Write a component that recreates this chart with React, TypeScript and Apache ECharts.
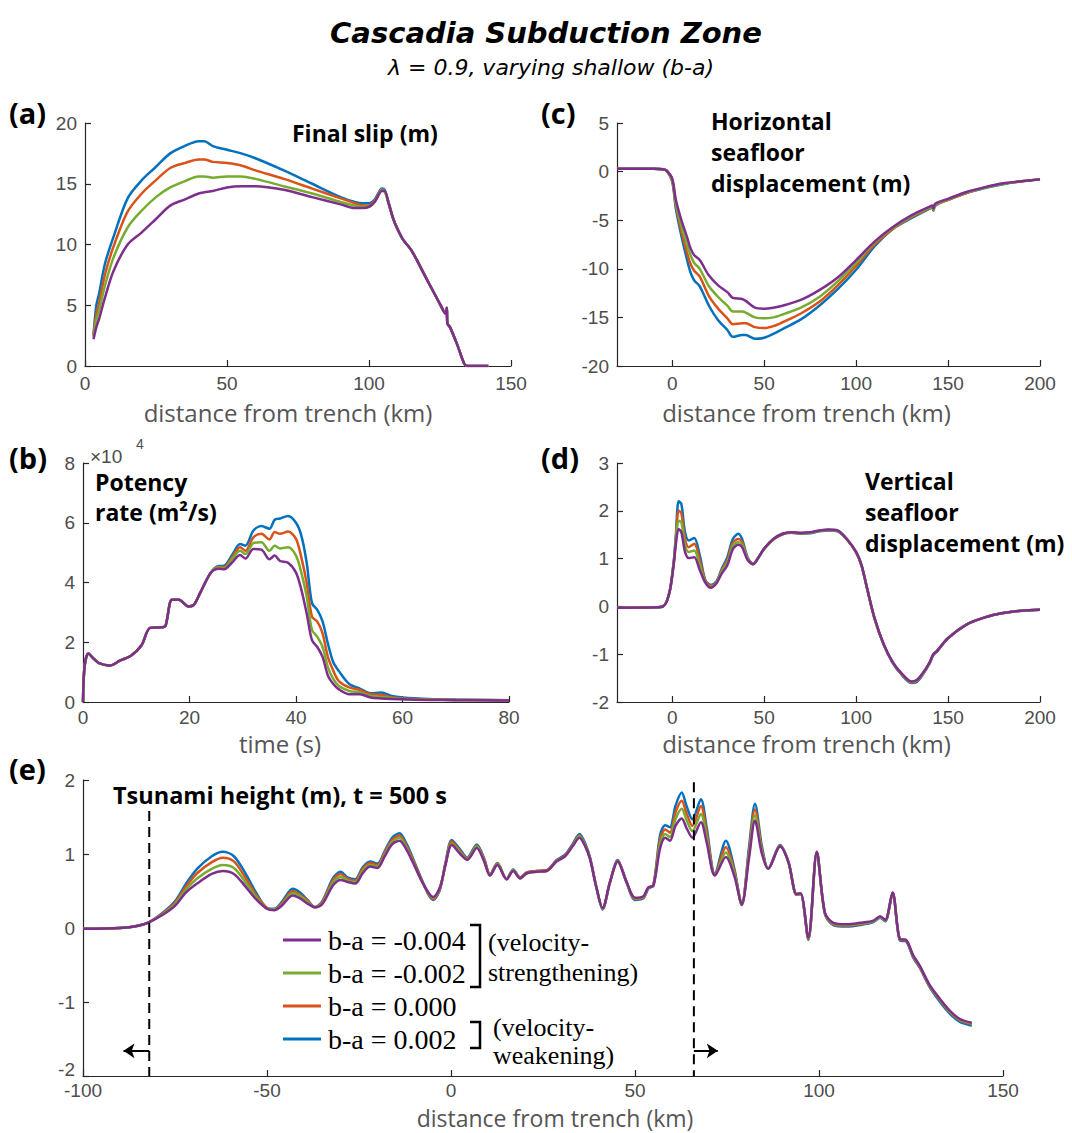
import React, { useEffect, useRef } from "react";
import * as echarts from "echarts";

// Series: purple, green, orange, blue
const NAMES = ["b-a = -0.004", "b-a = -0.002", "b-a = 0.000", "b-a = 0.002"];
const COLORS = ["#7E2F8E", "#77AC30", "#D95319", "#0072BD"];

// (a) Final slip (m)
const SLIP_X = [3, 4, 5, 7, 10, 15, 20, 25, 30, 35, 40, 42, 45, 50, 55, 60, 70, 80, 90, 95, 98, 100, 102, 103, 104.5, 105.5, 107, 108.7, 110, 112, 115, 120, 125, 127, 127.4, 127.6, 128.5, 131, 133.5, 134.5, 142];
const SLIP_PURPLE = [2.2, 3.2, 3.9, 5.6, 7.8, 10.0, 11.0, 12.1, 13.2, 13.7, 14.2, 14.3, 14.4, 14.7, 14.8, 14.8, 14.5, 13.9, 13.3, 13.0, 13.0, 13.1, 13.5, 13.9, 14.4, 14.4, 13.3, 12.0, 11.3, 10.4, 9.5, 7.3, 5.1, 4.3, 4.8, 3.5, 3.2, 1.8, 0.2, 0, 0];
const SLIP_GREEN = [2.4, 3.8, 4.6, 6.6, 8.9, 11.4, 12.8, 13.9, 14.7, 15.2, 15.6, 15.6, 15.5, 15.6, 15.6, 15.4, 14.8, 14.2, 13.5, 13.2, 13.1, 13.1, 13.5, 13.9, 14.5, 14.4, 13.3, 12.0, 11.3, 10.4, 9.5, 7.3, 5.1, 4.3, 4.8, 3.5, 3.2, 1.8, 0.2, 0, 0];
const SLIP_ORANGE = [2.5, 4.3, 5.2, 7.5, 9.8, 12.7, 14.2, 15.3, 16.3, 16.7, 17.0, 17.0, 16.8, 16.7, 16.5, 16.1, 15.4, 14.6, 13.8, 13.4, 13.2, 13.2, 13.6, 14.0, 14.5, 14.4, 13.3, 12.0, 11.3, 10.4, 9.5, 7.3, 5.1, 4.3, 4.8, 3.5, 3.2, 1.8, 0.2, 0, 0];
const SLIP_BLUE = [2.6, 5.0, 6.0, 8.4, 10.6, 13.8, 15.3, 16.4, 17.5, 18.1, 18.5, 18.5, 18.1, 17.8, 17.5, 17.1, 16.1, 15.0, 13.9, 13.5, 13.4, 13.4, 13.7, 14.1, 14.6, 14.5, 13.4, 12.0, 11.3, 10.4, 9.5, 7.3, 5.1, 4.3, 4.8, 3.5, 3.2, 1.8, 0.2, 0, 0];

// (b) Potency rate (x10^4 m^2/s)
const RATE_T = [0, 0.3, 1, 2, 3, 5, 7, 9, 11, 12.6, 14.8, 15.5, 16.7, 18, 19.8, 20.8, 22, 24, 25.5, 26.5, 28, 29.5, 30.5, 32, 33.5, 35, 36, 37, 38.5, 40, 41, 42, 43, 44, 45, 46, 47, 48, 50, 52, 54, 56, 58, 60, 65, 70, 80];
const RATE_PURPLE = [0, 1.2, 1.62, 1.45, 1.3, 1.22, 1.39, 1.55, 1.9, 2.48, 2.5, 2.55, 3.42, 3.42, 3.2, 3.25, 3.65, 4.33, 4.46, 4.44, 4.67, 4.92, 4.8, 5.12, 5.1, 4.78, 4.9, 4.72, 4.66, 4.33, 3.76, 2.97, 2.07, 1.84, 1.5, 0.88, 0.6, 0.43, 0.26, 0.26, 0.15, 0.12, 0.1, 0.09, 0.07, 0.06, 0.05];
const RATE_GREEN = [0, 1.2, 1.62, 1.45, 1.3, 1.22, 1.39, 1.55, 1.9, 2.48, 2.5, 2.55, 3.42, 3.42, 3.2, 3.25, 3.65, 4.33, 4.5, 4.48, 4.78, 5.06, 4.95, 5.32, 5.35, 5.06, 5.23, 5.14, 5.18, 4.9, 4.33, 3.54, 2.41, 2.18, 1.84, 1.16, 0.77, 0.54, 0.37, 0.32, 0.2, 0.17, 0.13, 0.1, 0.08, 0.07, 0.06];
const RATE_ORANGE = [0, 1.2, 1.62, 1.45, 1.3, 1.22, 1.39, 1.55, 1.9, 2.48, 2.5, 2.55, 3.42, 3.42, 3.2, 3.25, 3.65, 4.33, 4.52, 4.52, 4.84, 5.18, 5.06, 5.51, 5.63, 5.44, 5.69, 5.63, 5.71, 5.46, 4.84, 3.99, 2.86, 2.69, 2.29, 1.5, 1.05, 0.71, 0.49, 0.4, 0.26, 0.24, 0.16, 0.12, 0.09, 0.07, 0.06];
const RATE_BLUE = [0, 1.2, 1.62, 1.45, 1.3, 1.22, 1.39, 1.55, 1.9, 2.48, 2.5, 2.55, 3.42, 3.42, 3.2, 3.25, 3.65, 4.33, 4.55, 4.56, 4.92, 5.29, 5.23, 5.74, 5.89, 5.8, 6.1, 6.14, 6.23, 6.0, 5.57, 4.67, 3.31, 3.08, 2.69, 1.95, 1.33, 1.05, 0.6, 0.45, 0.29, 0.32, 0.2, 0.15, 0.1, 0.08, 0.06];

// (c) Horizontal seafloor displacement (m)
const HORIZ_X = [-30, -20, -10, -5, -3, 0, 2, 5, 8, 10, 12, 15, 20, 25, 30, 33, 38, 40, 45, 50, 55, 60, 70, 80, 90, 100, 110, 120, 130, 140, 141.5, 142, 143, 150, 160, 170, 180, 190, 200];
const HORIZ_PURPLE = [0.3, 0.3, 0.3, 0.25, 0.1, -0.7, -2.9, -5.0, -6.7, -7.9, -8.6, -9.1, -10.7, -11.7, -12.4, -13.0, -13.1, -13.3, -14.0, -14.1, -14.0, -13.8, -13.2, -12.2, -10.9, -9.1, -7.2, -5.7, -4.5, -3.6, -3.5, -3.8, -3.3, -2.8, -2.1, -1.6, -1.2, -1.0, -0.8];
const HORIZ_GREEN = [0.3, 0.3, 0.3, 0.25, 0.1, -0.8, -3.2, -5.6, -7.5, -8.6, -9.4, -10.0, -11.8, -12.9, -13.8, -14.4, -14.4, -14.5, -15.0, -15.1, -15.0, -14.7, -14.0, -12.9, -11.3, -9.4, -7.3, -5.8, -4.6, -3.7, -3.6, -3.9, -3.4, -2.85, -2.15, -1.65, -1.25, -1.0, -0.8];
const HORIZ_ORANGE = [0.3, 0.3, 0.3, 0.25, 0.1, -0.9, -3.5, -6.1, -8.3, -9.5, -10.2, -10.8, -12.8, -14.1, -15.1, -15.7, -15.6, -15.6, -16.0, -16.1, -15.9, -15.5, -14.6, -13.4, -11.7, -9.7, -7.5, -5.9, -4.7, -3.75, -3.65, -3.95, -3.45, -2.9, -2.2, -1.65, -1.25, -1.0, -0.8];
const HORIZ_BLUE = [0.3, 0.3, 0.3, 0.25, 0.1, -1.0, -3.8, -6.6, -9.0, -10.4, -11.2, -11.8, -13.8, -15.3, -16.3, -17.0, -16.8, -16.8, -17.2, -17.1, -16.7, -16.2, -15.2, -13.8, -12.1, -10.1, -7.7, -5.9, -4.8, -3.8, -3.7, -4.0, -3.5, -2.9, -2.2, -1.7, -1.3, -1.0, -0.8];

// (d) Vertical seafloor displacement (m)
const VERT_X = [-30, -8, -5, -3, -1, 1, 2, 3.5, 5, 7, 9, 12, 15, 18, 21, 24, 27, 30, 33, 36, 38, 41, 44, 47, 50, 55, 60, 65, 70, 75, 80, 85, 90, 95, 100, 103, 106, 110, 115, 120, 125, 130, 133, 136, 140, 142, 144, 150, 160, 170, 180, 190, 200];
const VERT_PURPLE = [-0.03, -0.02, 0, 0.1, 0.38, 0.93, 1.3, 1.62, 1.55, 1.14, 1.01, 1.03, 0.76, 0.5, 0.39, 0.48, 0.69, 0.86, 1.2, 1.29, 1.24, 0.97, 0.88, 1.03, 1.21, 1.41, 1.52, 1.55, 1.54, 1.55, 1.59, 1.61, 1.59, 1.41, 1.14, 0.86, 0.38, -0.24, -0.79, -1.17, -1.41, -1.57, -1.54, -1.41, -1.17, -1.0, -0.93, -0.66, -0.38, -0.23, -0.14, -0.09, -0.07];
const VERT_GREEN = [-0.03, -0.02, 0, 0.1, 0.38, 0.95, 1.38, 1.79, 1.76, 1.28, 1.14, 1.17, 0.86, 0.52, 0.41, 0.49, 0.73, 0.92, 1.27, 1.34, 1.3, 1.0, 0.88, 1.03, 1.21, 1.41, 1.52, 1.55, 1.53, 1.54, 1.58, 1.6, 1.58, 1.41, 1.14, 0.86, 0.38, -0.24, -0.79, -1.17, -1.42, -1.58, -1.55, -1.42, -1.17, -1.0, -0.93, -0.66, -0.38, -0.23, -0.14, -0.09, -0.07];
const VERT_ORANGE = [-0.03, -0.02, 0, 0.1, 0.38, 0.97, 1.42, 2.0, 1.95, 1.41, 1.24, 1.31, 0.97, 0.54, 0.43, 0.5, 0.76, 0.97, 1.33, 1.41, 1.35, 1.01, 0.89, 1.03, 1.2, 1.4, 1.51, 1.54, 1.53, 1.54, 1.58, 1.6, 1.58, 1.4, 1.13, 0.85, 0.37, -0.25, -0.8, -1.18, -1.43, -1.59, -1.56, -1.43, -1.18, -1.01, -0.94, -0.67, -0.38, -0.23, -0.14, -0.09, -0.07];
const VERT_BLUE = [-0.03, -0.02, 0, 0.1, 0.38, 1.0, 1.48, 2.2, 2.14, 1.55, 1.38, 1.43, 1.07, 0.55, 0.45, 0.52, 0.79, 1.03, 1.41, 1.52, 1.41, 1.03, 0.89, 1.03, 1.2, 1.4, 1.51, 1.54, 1.52, 1.53, 1.57, 1.59, 1.57, 1.4, 1.13, 0.85, 0.37, -0.25, -0.8, -1.19, -1.44, -1.6, -1.58, -1.44, -1.19, -1.02, -0.94, -0.67, -0.38, -0.23, -0.14, -0.09, -0.07];

// (e) Tsunami height (m), t = 500 s
const TSU_X = [-100, -90, -85, -82, -78, -75, -72, -69, -65, -62, -59, -56, -53, -50, -48, -46, -43, -41, -39, -37, -35, -32, -30, -28, -26, -24, -22, -20, -18, -16, -14, -12, -10, -8, -6, -4.8, -3, -1.5, 0.2, 2.5, 4.4, 7.0, 9, 10.6, 12.6, 15.1, 16.9, 18.8, 20.6, 23.3, 26, 28.7, 31, 33, 34.9, 36.5, 37.8, 39.5, 41.2, 43.2, 45.3, 47.7, 50, 52.3, 53.6, 55, 56.8, 58.2, 59.5, 61, 62.7, 64, 65.6, 67.9, 69.5, 71.7, 74.7, 77, 79, 81, 82.6, 84.5, 86.2, 89.4, 91.7, 93.9, 95, 97.1, 99.4, 101.6, 103.9, 107.5, 111.1, 114.8, 116.6, 118, 120, 122, 123.6, 125.6, 127.4, 130.2, 132.9, 135.6, 138.3, 141.5];
const TSU_PURPLE = [-0.01, 0, 0.03, 0.08, 0.19, 0.3, 0.48, 0.6, 0.73, 0.77, 0.73, 0.57, 0.39, 0.26, 0.24, 0.3, 0.44, 0.4, 0.33, 0.28, 0.32, 0.58, 0.65, 0.62, 0.6, 0.74, 0.83, 0.81, 0.97, 1.13, 1.18, 1.05, 0.85, 0.64, 0.47, 0.42, 0.55, 0.85, 1.12, 1.0, 0.92, 1.08, 0.9, 0.71, 0.85, 0.66, 0.77, 0.67, 0.74, 0.76, 0.77, 0.9, 0.97, 1.1, 1.22, 1.1, 0.93, 0.55, 0.27, 0.62, 0.9, 0.62, 0.41, 0.43, 0.55, 0.57, 1.07, 1.22, 1.18, 1.38, 1.48, 1.35, 1.22, 1.43, 1.15, 0.71, 0.96, 0.7, 0.32, 0.95, 1.45, 1.0, 0.8, 1.1, 0.89, 0.46, 0.47, -0.13, 1.03, 0.21, 0.07, 0.05, 0.07, 0.1, 0.16, 0.11, 0.48, -0.15, -0.16, -0.37, -0.51, -0.78, -0.96, -1.12, -1.23, -1.28];
const TSU_GREEN = [-0.01, 0, 0.03, 0.08, 0.2, 0.32, 0.52, 0.67, 0.8, 0.85, 0.81, 0.63, 0.42, 0.26, 0.25, 0.31, 0.47, 0.43, 0.35, 0.28, 0.33, 0.62, 0.69, 0.64, 0.62, 0.77, 0.85, 0.83, 0.99, 1.16, 1.22, 1.07, 0.86, 0.64, 0.46, 0.41, 0.54, 0.86, 1.14, 1.02, 0.93, 1.1, 0.91, 0.71, 0.86, 0.66, 0.78, 0.67, 0.74, 0.76, 0.77, 0.9, 0.97, 1.11, 1.24, 1.11, 0.93, 0.55, 0.26, 0.62, 0.9, 0.62, 0.4, 0.42, 0.54, 0.57, 1.13, 1.27, 1.23, 1.47, 1.61, 1.46, 1.31, 1.54, 1.22, 0.71, 1.02, 0.74, 0.32, 1.0, 1.52, 1.03, 0.8, 1.1, 0.89, 0.46, 0.46, -0.14, 1.03, 0.2, 0.06, 0.04, 0.06, 0.09, 0.15, 0.1, 0.48, -0.15, -0.16, -0.38, -0.52, -0.79, -0.97, -1.13, -1.24, -1.29];
const TSU_ORANGE = [-0.01, 0, 0.03, 0.08, 0.21, 0.34, 0.56, 0.74, 0.89, 0.95, 0.9, 0.69, 0.45, 0.27, 0.25, 0.33, 0.5, 0.45, 0.37, 0.28, 0.35, 0.65, 0.73, 0.66, 0.64, 0.8, 0.88, 0.85, 1.02, 1.19, 1.25, 1.1, 0.88, 0.65, 0.45, 0.39, 0.53, 0.87, 1.17, 1.04, 0.94, 1.11, 0.93, 0.72, 0.87, 0.66, 0.78, 0.68, 0.75, 0.77, 0.78, 0.91, 0.98, 1.12, 1.25, 1.12, 0.94, 0.55, 0.26, 0.62, 0.91, 0.62, 0.39, 0.41, 0.54, 0.58, 1.19, 1.33, 1.29, 1.56, 1.72, 1.55, 1.38, 1.65, 1.29, 0.72, 1.09, 0.77, 0.31, 1.05, 1.6, 1.06, 0.8, 1.11, 0.89, 0.45, 0.46, -0.15, 1.02, 0.2, 0.05, 0.03, 0.05, 0.09, 0.15, 0.1, 0.47, -0.16, -0.17, -0.39, -0.53, -0.8, -0.98, -1.14, -1.25, -1.3];
const TSU_BLUE = [-0.01, 0, 0.03, 0.08, 0.22, 0.36, 0.6, 0.8, 0.97, 1.03, 0.97, 0.75, 0.48, 0.27, 0.26, 0.35, 0.53, 0.48, 0.38, 0.28, 0.36, 0.68, 0.76, 0.68, 0.66, 0.82, 0.9, 0.87, 1.04, 1.22, 1.28, 1.13, 0.9, 0.66, 0.44, 0.38, 0.52, 0.88, 1.19, 1.06, 0.95, 1.13, 0.94, 0.72, 0.88, 0.66, 0.79, 0.68, 0.75, 0.77, 0.78, 0.92, 0.99, 1.13, 1.27, 1.14, 0.95, 0.55, 0.25, 0.62, 0.92, 0.62, 0.38, 0.4, 0.53, 0.58, 1.25, 1.39, 1.36, 1.65, 1.83, 1.65, 1.47, 1.74, 1.35, 0.73, 1.18, 0.8, 0.31, 1.1, 1.68, 1.1, 0.8, 1.12, 0.89, 0.45, 0.46, -0.16, 1.02, 0.19, 0.04, 0.02, 0.04, 0.08, 0.14, 0.09, 0.47, -0.17, -0.18, -0.4, -0.54, -0.81, -1.0, -1.16, -1.27, -1.32];

// dashed boundaries and arrows in (e)
const LEFT_BOUND_X = -82;
const LEFT_BOUND_Y = [1.58, -2];
const RIGHT_BOUND_X = 66;
const RIGHT_BOUND_Y = [1.97, -2];
const ARROW_Y = -1.66;
const LEFT_ARROW_END = -89;
const RIGHT_ARROW_END = 72.5;

const HC_TICKS = [0, 50, 100, 150, 200];

const TICK_FONT = "Liberation Sans";
const SANS = "Open Sans";
const TITLE_FONT = "DejaVu Sans";
const SERIF = "Liberation Serif";
const AXIS_DARK = "#262626";
const TICK_GRAY = "#4d4d4d";

const DRAW_ORDER = [3, 2, 1, 0];

function panelSeries(gi: number, xs: number[], ys: number[][]) {
  return DRAW_ORDER.map((k) => ({
    type: "line",
    name: NAMES[k],
    xAxisIndex: gi,
    yAxisIndex: gi,
    data: xs.map((x, i) => [x, ys[k][i]]),
    showSymbol: false,
    symbol: "none",
    smooth: 0.3,
    silent: true,
    lineStyle: { color: COLORS[k], width: 2.5 },
    itemStyle: { color: COLORS[k] },
  }));
}

// shift: horizontal offset of the axis name from the axis centre (px, + = right)
function xAx(gi: number, min: number, max: number, interval: number, name: string, gap: number, shift: number, labelMargin: number, nameSize: number, custom?: number[]) {
  const pad = shift >= 0 ? [0, 0, 0, 2 * shift] : [0, -2 * shift, 0, 0];
  const ax: any = {
    type: "value",
    gridIndex: gi,
    min,
    max,
    interval,
    name,
    nameLocation: "middle",
    nameGap: gap,
    nameMoveOverlap: false,
    nameTextStyle: { fontFamily: SANS, fontSize: nameSize, color: "#555555", verticalAlign: "middle", lineHeight: nameSize, padding: pad },
    axisLine: { show: true, onZero: false, lineStyle: { color: AXIS_DARK, width: 1.2 } },
    axisTick: { show: true, inside: true, length: 6, lineStyle: { color: AXIS_DARK, width: 1.2 } },
    axisLabel: { fontFamily: TICK_FONT, fontSize: 19, color: TICK_GRAY, margin: labelMargin, lineHeight: 19 },
    splitLine: { show: false },
  };
  if (custom) {
    ax.axisLabel.customValues = custom;
    ax.axisTick.customValues = custom;
  }
  return ax;
}

function yAx(gi: number, min: number, max: number, interval: number, liftMin = false) {
  const label: any = { fontFamily: TICK_FONT, fontSize: 19, color: TICK_GRAY, margin: 8 };
  if (liftMin) {
    // the lowest label sits slightly above its tick, clear of the x labels
    label.formatter = (v: number) => (v === min ? `{lift|${v}}` : `${v}`);
    label.rich = { lift: { fontFamily: TICK_FONT, fontSize: 19, color: TICK_GRAY, padding: [0, 0, 14, 0] } };
  }
  return {
    type: "value",
    gridIndex: gi,
    min,
    max,
    interval,
    axisLine: { show: true, onZero: false, lineStyle: { color: AXIS_DARK, width: 1.2 } },
    axisTick: { show: true, inside: true, length: 6, lineStyle: { color: AXIS_DARK, width: 1.2 } },
    axisLabel: label,
    splitLine: { show: false },
  };
}

function txt(text: string, x: number, y: number, size: number, opts: any = {}) {
  return {
    type: "text",
    x,
    y,
    silent: true,
    style: {
      text,
      fill: "#000",
      fontFamily: SANS,
      fontSize: size,
      fontWeight: "bold",
      textAlign: "left",
      textVerticalAlign: "middle",
      ...opts,
    },
  };
}

function bracket(x0: number, x1: number, y0: number, y1: number) {
  return {
    type: "polyline",
    silent: true,
    shape: { points: [[x0, y0], [x1, y0], [x1, y1], [x0, y1]] },
    style: { stroke: "#000", lineWidth: 2.5, fill: null },
  };
}

function buildOption() {
  const series: any[] = [
    ...panelSeries(0, SLIP_X, [SLIP_PURPLE, SLIP_GREEN, SLIP_ORANGE, SLIP_BLUE]),
    ...panelSeries(1, RATE_T, [RATE_PURPLE, RATE_GREEN, RATE_ORANGE, RATE_BLUE]),
    ...panelSeries(2, HORIZ_X, [HORIZ_PURPLE, HORIZ_GREEN, HORIZ_ORANGE, HORIZ_BLUE]),
    ...panelSeries(3, VERT_X, [VERT_PURPLE, VERT_GREEN, VERT_ORANGE, VERT_BLUE]),
    ...panelSeries(4, TSU_X, [TSU_PURPLE, TSU_GREEN, TSU_ORANGE, TSU_BLUE]),
  ];
  const arrowLine = {
    silent: true,
    symbol: ["none", "arrow"],
    symbolSize: 11,
    label: { show: false },
    lineStyle: { color: "#000", width: 2, type: "solid" },
    emphasis: { disabled: true },
  };
  series.push({
    type: "line",
    xAxisIndex: 4,
    yAxisIndex: 4,
    silent: true,
    showSymbol: false,
    symbol: "none",
    data: LEFT_BOUND_Y.map((y) => [LEFT_BOUND_X, y]),
    lineStyle: { color: "#000", width: 2, type: [10, 6] },
    markLine: {
      ...arrowLine,
      data: [[{ coord: [LEFT_BOUND_X, ARROW_Y] }, { coord: [LEFT_ARROW_END, ARROW_Y] }]],
    },
  });
  series.push({
    type: "line",
    xAxisIndex: 4,
    yAxisIndex: 4,
    silent: true,
    showSymbol: false,
    symbol: "none",
    data: RIGHT_BOUND_Y.map((y) => [RIGHT_BOUND_X, y]),
    lineStyle: { color: "#000", width: 2, type: [10, 6] },
    markLine: {
      ...arrowLine,
      data: [[{ coord: [RIGHT_BOUND_X, ARROW_Y] }, { coord: [RIGHT_ARROW_END, ARROW_Y] }]],
    },
  });

  return {
    animation: false,
    backgroundColor: "#ffffff",
    grid: [
      { left: 85, top: 123, width: 426, height: 243 },
      { left: 83, top: 463, width: 426, height: 239 },
      { left: 617, top: 123, width: 423, height: 243 },
      { left: 617, top: 463, width: 423, height: 239 },
      { left: 83, top: 780, width: 920, height: 296 },
    ],
    xAxis: [
      xAx(0, 0, 150, 50, "distance from trench (km)", 46, -10, 8, 24),
      xAx(1, 0, 80, 20, "time (s)", 41, -16, 6, 24),
      xAx(2, -30, 200, 50, "distance from trench (km)", 46, -22, 8, 24, HC_TICKS),
      xAx(3, -30, 200, 50, "distance from trench (km)", 41, -22, 6, 24, HC_TICKS),
      xAx(4, -100, 150, 50, "distance from trench (km)", 42, 12, 5, 23),
    ],
    yAxis: [yAx(0, 0, 20, 5), yAx(1, 0, 8, 2), yAx(2, -20, 5, 5), yAx(3, -2, 3, 1), yAx(4, -2, 2, 1, true)],
    legend: {
      data: NAMES,
      orient: "vertical",
      left: 278,
      top: 921,
      icon: "rect",
      itemWidth: 38,
      itemHeight: 3,
      itemGap: 5,
      selectedMode: false,
      textStyle: { fontFamily: SERIF, fontSize: 28, color: "#000", padding: [0, 0, 0, 2] },
    },
    graphic: [
      txt("Cascadia Subduction Zone", 546, 33, 29, { textAlign: "center", fontStyle: "italic", fontFamily: TITLE_FONT }),
      txt("λ = 0.9, varying shallow (b-a)", 551, 67, 22, { textAlign: "center", fontStyle: "italic", fontWeight: "normal", fontFamily: TITLE_FONT }),
      txt("(a)", 9, 112, 29),
      txt("(b)", 9, 457, 29),
      txt("(c)", 541, 112, 29),
      txt("(d)", 541, 457, 29),
      txt("(e)", 9, 768, 29),
      txt("Final slip (m)", 292, 133, 23),
      txt("Horizontal\nseafloor\ndisplacement (m)", 711, 152, 23, { lineHeight: 31 }),
      txt("Potency\nrate (m²/s)", 95, 497, 23, { lineHeight: 30 }),
      txt("Vertical\nseafloor\ndisplacement (m)", 865, 512, 23, { lineHeight: 31 }),
      txt("Tsunami height (m), t = 500 s", 113, 795, 23.5),
      txt("×10", 90, 456, 19, { fontFamily: TICK_FONT, fontWeight: "normal", fill: TICK_GRAY }),
      txt("4", 136, 444, 14, { fontFamily: TICK_FONT, fontWeight: "normal", fill: TICK_GRAY }),
      bracket(470, 480, 925, 987),
      bracket(470, 480, 1022, 1048),
      txt("(velocity-\nstrengthening)", 488, 957, 26, { fontFamily: SERIF, fontWeight: "normal", lineHeight: 30 }),
      txt("(velocity-\nweakening)", 493, 1041, 26, { fontFamily: SERIF, fontWeight: "normal", lineHeight: 28 }),
    ],
    series,
  };
}

export default function App() {
  const ref = useRef<HTMLDivElement>(null);
  useEffect(() => {
    if (!ref.current) return;
    const chart = echarts.init(ref.current, null, { renderer: "svg" });
    chart.setOption(buildOption() as any);
    return () => chart.dispose();
  }, []);
  return (
    <div
      ref={ref}
      style={{ position: "absolute", left: 0, top: 0, width: 1072, height: 1133, background: "#fff" }}
    />
  );
}
